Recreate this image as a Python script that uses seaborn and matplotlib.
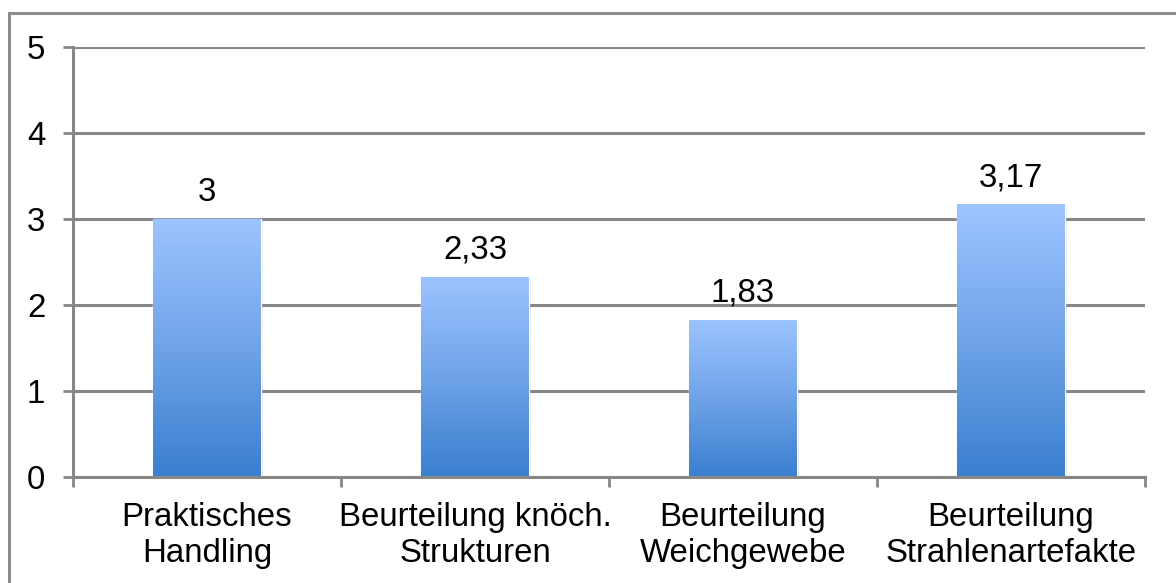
import numpy as np
import pandas as pd
import matplotlib
matplotlib.use('Agg')
import matplotlib.pyplot as plt
import seaborn as sns
from matplotlib.colors import LinearSegmentedColormap
from matplotlib.patches import Rectangle

# ── Data ──────────────────────────────────────────────────────────────────────
categories   = ['Praktisches\nHandling', 'Beurteilung knöch.\nStrukturen',
                'Beurteilung\nWeichgewebe', 'Beurteilung\nStrahlenartefakte']
values       = [3.0, 2.33, 1.83, 3.17]
value_labels = ['3', '2,33', '1,83', '3,17']
y_ticks      = [0, 1, 2, 3, 4, 5]

# ── Style ─────────────────────────────────────────────────────────────────────
sns.set_theme(style='white')
plt.rcParams['font.family'] = ['Liberation Sans', 'DejaVu Sans']
grey = '#878787'
fs = 23.8

W, H = 1176, 583
fig = plt.figure(figsize=(W / 100, H / 100), dpi=100)
ax = fig.add_axes([73 / W, 1 - 477 / H, (1145 - 73) / W, (477 - 47) / H])

df = pd.DataFrame({'Kategorie': categories, 'Wert': values})
sns.barplot(data=df, x='Kategorie', y='Wert', color='#6fa3e8', saturation=1,
            width=0.4, ax=ax, zorder=3)

# gradient fill on each bar (light top, darker bottom)
cmap = LinearSegmentedColormap.from_list('bar', ['#3a7fcf', '#6fa3e8', '#9dc4ff'])
grad = np.linspace(0, 1, 256).reshape(-1, 1)
for p in ax.patches:
    x0, w, h = p.get_x(), p.get_width(), p.get_height()
    # faint shadow
    ax.add_patch(Rectangle((x0 + 0.01, 0), w, h - 0.02, facecolor='#000000',
                           alpha=0.08, edgecolor='none', zorder=2.5))
    im = ax.imshow(grad, extent=[x0, x0 + w, 0, h], origin='lower', aspect='auto',
                   cmap=cmap, zorder=3.5)
    im.set_clip_path(p)

ax.bar_label(ax.containers[0], labels=value_labels, padding=8, fontsize=fs,
             color='black')

# ── Axes ──────────────────────────────────────────────────────────────────────
ax.set_xlim(-0.5, len(categories) - 0.5)
ax.set_ylim(0, 5)
ax.set_yticks(y_ticks)
ax.set_yticklabels([str(t) for t in y_ticks], fontsize=fs)
ax.yaxis.grid(True, color=grey, linewidth=2.2)
ax.set_axisbelow(True)

bounds = np.arange(len(categories) + 1) - 0.5
ax.set_xticks(bounds)
ax.set_xticklabels([''] * len(bounds))
ax.set_xticks(np.arange(len(categories)), minor=True)
ax.set_xticklabels(categories, minor=True, fontsize=fs, linespacing=1.22)
ax.tick_params(axis='x', which='major', length=7, width=2, color=grey, direction='out',
               bottom=True)
ax.tick_params(axis='x', which='minor', length=0, pad=18, labelcolor='black')
ax.tick_params(axis='y', length=7, width=2, color=grey, direction='out', pad=13,
               left=True, labelcolor='black')
ax.set_xlabel('')
ax.set_ylabel('')

for s in ['top', 'right']:
    ax.spines[s].set_visible(False)
for s in ['left', 'bottom']:
    ax.spines[s].set_color(grey)
    ax.spines[s].set_linewidth(2.2)
    ax.spines[s].set_zorder(4)

# outer frame (right and bottom edges fall outside the picture)
fig.patches.append(Rectangle((9 / W, -0.1), 1.2, 1 - 13 / H + 0.1,
                             transform=fig.transFigure, fill=False,
                             edgecolor='#8c8c8c', linewidth=2.2))

fig.savefig('out.png', dpi=100)
